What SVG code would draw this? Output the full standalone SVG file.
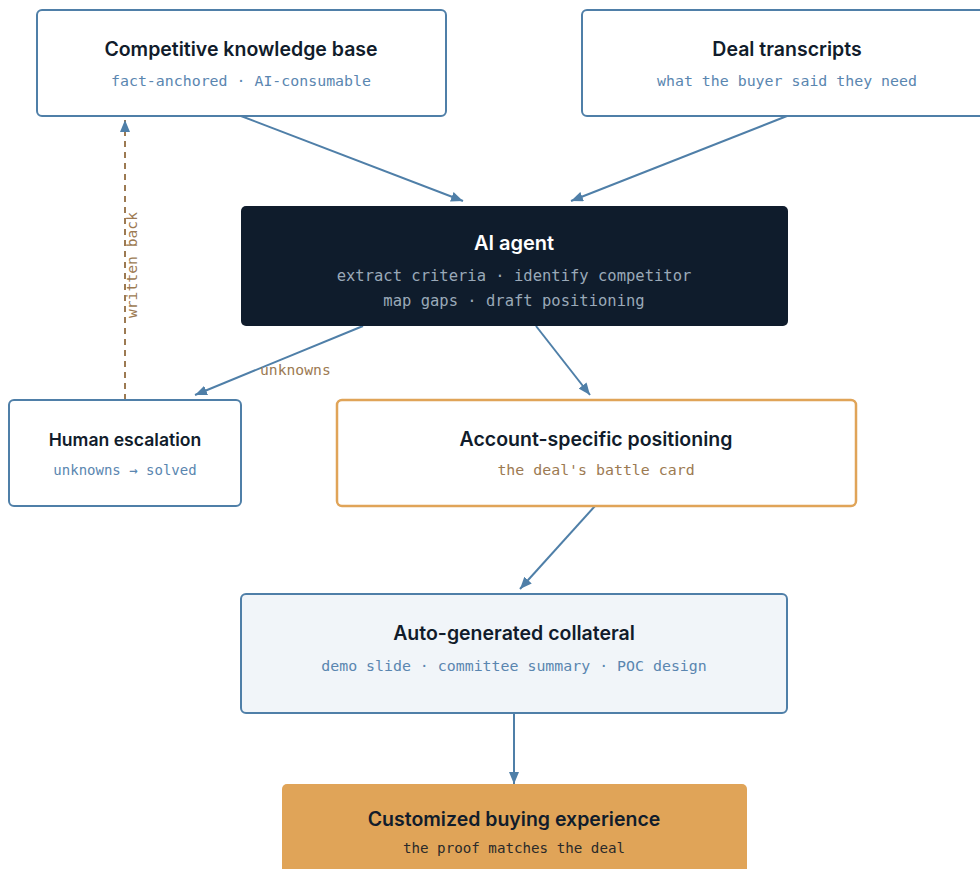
<svg xmlns="http://www.w3.org/2000/svg" width="980" height="869" viewBox="0 0 980 869">
<style>
.box{fill:#ffffff;stroke:#4f7fa8;stroke-width:2}
.t{font-family:Inter,"Noto Sans","Liberation Sans",sans-serif;font-weight:600;font-size:19.5px;fill:#111c2b;text-anchor:middle}
.s{font-family:"DejaVu Sans Mono","Liberation Mono",monospace;font-size:14.9px;fill:#5a86b0;text-anchor:middle}
.c{fill:none;stroke:#4f7fa8;stroke-width:2}
.lbl{font-family:"DejaVu Sans Mono","Liberation Mono",monospace;font-size:14.7px;fill:#9c7a52}
</style>
<defs>
<marker id="ah" viewBox="0 0 12 10" refX="12" refY="5" markerWidth="12" markerHeight="10" markerUnits="userSpaceOnUse" orient="auto">
<path d="M0,0 L12,5 L0,10 Z" fill="#4f7fa8"/>
</marker>
</defs>
<g id="connectors">
<line class="c" x1="241" y1="116" x2="463" y2="201" marker-end="url(#ah)"/>
<line class="c" x1="787" y1="116" x2="571" y2="201" marker-end="url(#ah)"/>
<line class="c" x1="363" y1="326" x2="195" y2="395" marker-end="url(#ah)"/>
<text class="lbl" x="260" y="375">unknowns</text>
<line class="c" x1="536" y1="326" x2="590" y2="395" marker-end="url(#ah)"/>
<line class="c" x1="595" y1="506" x2="520" y2="589" marker-end="url(#ah)"/>
<line class="c" x1="514" y1="713" x2="514" y2="784" marker-end="url(#ah)"/>
<line x1="125" y1="400" x2="125" y2="120" stroke="#9c7a52" stroke-width="2" stroke-dasharray="6,5" fill="none" marker-end="url(#ah)"/>
<text class="lbl" x="0" y="0" transform="translate(137,265) rotate(-90)" text-anchor="middle">written back</text>
</g>
<g id="kb">
<rect class="box" x="37" y="10" width="409" height="106" rx="5"/>
<text class="t" x="241" y="56">Competitive knowledge base</text>
<text class="s" x="241" y="86">fact-anchored · AI-consumable</text>
</g>
<g id="transcripts">
<rect class="box" x="582" y="10" width="410" height="106" rx="5"/>
<text class="t" x="787" y="56">Deal transcripts</text>
<text class="s" x="787" y="86">what the buyer said they need</text>
</g>
<g id="agent">
<rect x="241" y="206" width="547" height="120" rx="5" fill="#0f1c2c"/>
<text class="t" x="514" y="250" style="fill:#ffffff;font-size:20px">AI agent</text>
<text class="s" x="514" y="281" style="fill:#9aa9b8;font-size:15.5px">extract criteria · identify competitor</text>
<text class="s" x="514" y="306" style="fill:#9aa9b8;font-size:15.5px">map gaps · draft positioning</text>
</g>
<g id="human">
<rect class="box" x="9" y="400" width="232" height="106" rx="5"/>
<text class="t" x="125" y="446" style="font-size:17.6px">Human escalation</text>
<text class="s" x="125" y="475" style="font-size:14px">unknowns → solved</text>
</g>
<g id="positioning">
<rect x="337" y="400" width="519" height="106" rx="5" fill="#ffffff" stroke="#e0a458" stroke-width="2.5"/>
<text class="t" x="596" y="446">Account-specific positioning</text>
<text class="s" x="596" y="475" style="fill:#9c7a52">the deal's battle card</text>
</g>
<g id="collateral">
<rect class="box" x="241" y="594" width="546" height="119" rx="5" style="fill:#f1f5f9"/>
<text class="t" x="514" y="640">Auto-generated collateral</text>
<text class="s" x="514" y="671">demo slide · committee summary · POC design</text>
</g>
<g id="experience">
<rect x="282" y="784" width="465" height="100" rx="5" fill="#e0a458"/>
<text class="t" x="514" y="826">Customized buying experience</text>
<text class="s" x="514" y="853" style="fill:#2a2a2a;font-size:14.2px">the proof matches the deal</text>
</g>
</svg>
